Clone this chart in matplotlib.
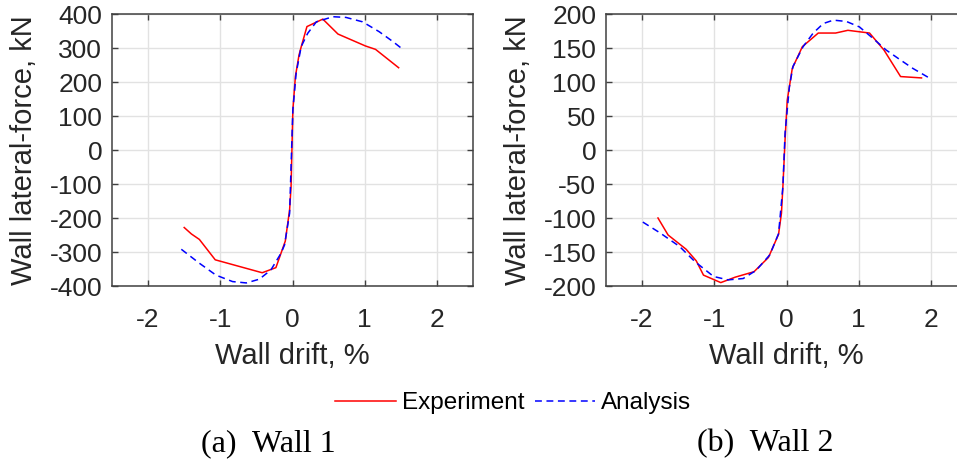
import matplotlib
matplotlib.use("Agg")
import matplotlib.pyplot as plt
from matplotlib.lines import Line2D

# ---- data ----
w1_exp_x = [-1.50, -1.40, -1.29, -1.07, -0.42, -0.23, -0.10, -0.04, -0.02, 0.005, 0.04, 0.09, 0.12, 0.20, 0.42, 0.63, 1.01, 1.15, 1.47]
w1_exp_y = [-228, -247, -263, -323, -361, -346, -268, -176, -108, 118, 216, 279, 303, 363, 385, 341, 306, 296, 242]

w1_ana_x = [-1.54, -1.29, -1.06, -0.83, -0.64, -0.46, -0.30, -0.16, -0.11, -0.04, -0.02, 0.005, 0.05, 0.12, 0.21, 0.33, 0.56, 0.74, 0.97, 1.20, 1.39, 1.54]
w1_ana_y = [-292, -333, -368, -387, -391, -380, -353, -304, -279, -186, -49, 118, 225, 304, 343, 377, 392, 390, 377, 348, 319, 294]

w2_exp_x = [-1.78, -1.64, -1.39, -1.25, -1.15, -0.91, -0.71, -0.45, -0.25, -0.11, -0.07, -0.05, -0.02, 0.01, 0.04, 0.08, 0.22, 0.44, 0.68, 0.85, 1.15, 1.35, 1.58, 1.87]
w2_exp_y = [-100, -125, -146, -163, -184, -195, -187, -179, -158, -124, -93, -54, 15, 73, 93, 120, 152, 172, 172, 176, 172, 147, 108, 106]

w2_ana_x = [-1.99, -1.75, -1.48, -1.27, -1.01, -0.81, -0.60, -0.42, -0.23, -0.11, -0.05, -0.02, 0.04, 0.09, 0.23, 0.37, 0.51, 0.65, 0.83, 1.01, 1.20, 1.38, 1.57, 1.75, 1.96]
w2_ana_y = [-106, -122, -142, -164, -186, -191, -189, -177, -154, -123, -54, 25, 93, 123, 152, 172, 186, 191, 189, 181, 164, 147, 133, 120, 107]

x_ticks = [-2, -1, 0, 1, 2]
w1_yticks = [-400, -300, -200, -100, 0, 100, 200, 300, 400]
w2_yticks = [-200, -150, -100, -50, 0, 50, 100, 150, 200]

xlabel = "Wall drift, %"
ylabel = "Wall lateral-force, kN"
legend_labels = ["Experiment", "Analysis"]
captions = ["(a)  Wall 1", "(b)  Wall 2"]

# ---- style ----
plt.rcParams['font.family'] = ['Liberation Sans', 'DejaVu Sans']
W, H = 957, 461
fig = plt.figure(figsize=(W / 100, H / 100), dpi=100)

axc = '#404040'
txtc = '#262626'
red = '#ff0000'
blue = '#0000ff'
lw = 1.1
dash = (4.5, 3.0)


def setup(ax, yticks, ylim):
    ax.set_xlim(-2.5, 2.5)
    ax.set_ylim(*ylim)
    ax.set_xticks(x_ticks)
    ax.set_yticks(yticks)
    ax.set_xticklabels([str(v) for v in x_ticks])
    ax.set_yticklabels([str(v) for v in yticks])
    ax.grid(True, color='#e2e2e2', linewidth=1.0)
    ax.set_axisbelow(True)
    for s in ax.spines.values():
        s.set_color(axc)
        s.set_linewidth(1.1)
    ax.tick_params(direction='in', length=4, width=1.0, color=axc,
                   top=True, right=True, labelsize=19, labelcolor=txtc)
    ax.tick_params(axis='x', pad=16)
    ax.tick_params(axis='y', pad=7)
    ax.set_xlabel(xlabel, fontsize=21, color=txtc, labelpad=7)
    ax.set_ylabel(ylabel, fontsize=21, color=txtc, labelpad=8)


ax1 = fig.add_axes([112 / W, (H - 286) / H, 361 / W, 272 / H])
ax2 = fig.add_axes([606 / W, (H - 286) / H, 361 / W, 272 / H])

setup(ax1, w1_yticks, (-400, 400))
setup(ax2, w2_yticks, (-200, 200))

ax1.plot(w1_exp_x, w1_exp_y, color=red, lw=lw, zorder=3)
ax1.plot(w1_ana_x, w1_ana_y, color=blue, lw=lw, dashes=dash, zorder=4)
ax2.plot(w2_exp_x, w2_exp_y, color=red, lw=lw, zorder=3)
ax2.plot(w2_ana_x, w2_ana_y, color=blue, lw=lw, dashes=dash, zorder=4)

handles = [Line2D([], [], color=red, lw=lw),
           Line2D([], [], color=blue, lw=lw, dashes=dash)]
fig.legend(handles, legend_labels, loc='center', bbox_to_anchor=(513.5 / W, (H - 403) / H),
           ncol=2, frameon=False, fontsize=17.5, handlelength=2.5, handletextpad=0.25,
           columnspacing=0.4, borderpad=0, labelcolor='black')

fig.text(268 / W, (H - 444) / H, captions[0], ha='center', va='center',
         fontsize=23, family=['Liberation Serif', 'DejaVu Serif'], color='black')
fig.text(765 / W, (H - 444) / H, captions[1], ha='center', va='center',
         fontsize=23, family=['Liberation Serif', 'DejaVu Serif'], color='black')

fig.savefig('out.png', dpi=100)
